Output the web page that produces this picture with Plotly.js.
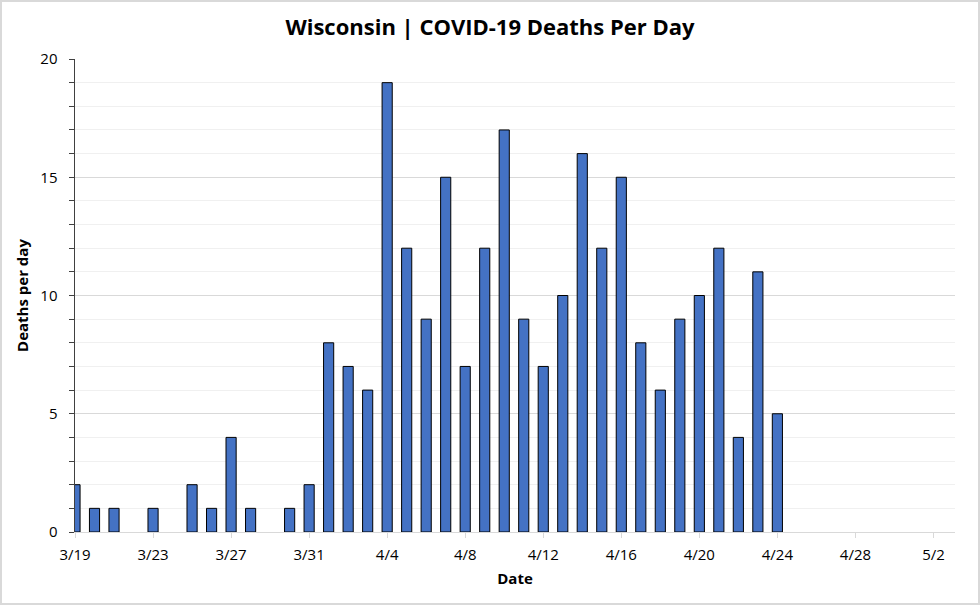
<!DOCTYPE html>
<html>
<head>
<meta charset="utf-8">
<script src="https://cdn.plot.ly/plotly-3.0.1.min.js"></script>
<style>
html,body{margin:0;padding:0;background:#fff;}
#wrap{position:relative;width:980px;height:605px;}
#chart{width:980px;height:605px;}
#frame{position:absolute;left:0;top:0;width:980px;height:605px;box-sizing:border-box;border:2px solid #d9d9d9;pointer-events:none;}
</style>
</head>
<body>
<div id="wrap"><div id="chart"></div><div id="frame"></div></div>
<script>
const dates = [
  "2020-03-19","2020-03-20","2020-03-21","2020-03-22","2020-03-23","2020-03-24","2020-03-25",
  "2020-03-26","2020-03-27","2020-03-28","2020-03-29","2020-03-30","2020-03-31","2020-04-01",
  "2020-04-02","2020-04-03","2020-04-04","2020-04-05","2020-04-06","2020-04-07","2020-04-08",
  "2020-04-09","2020-04-10","2020-04-11","2020-04-12","2020-04-13","2020-04-14","2020-04-15",
  "2020-04-16","2020-04-17","2020-04-18","2020-04-19","2020-04-20","2020-04-21","2020-04-22",
  "2020-04-23","2020-04-24"
];
const deaths = [
  2,1,1,0,1,0,2,
  1,4,1,0,1,2,8,
  7,6,19,12,9,15,7,
  12,17,9,7,10,16,12,
  15,8,6,9,10,12,4,
  11,5
];
const titleText = "Wisconsin | COVID-19 Deaths Per Day";
const xTitle = "Date";
const yTitle = "Deaths per day";

const trace = {
  type: "bar",
  x: dates,
  y: deaths,
  marker: {color: "#4472C4", line: {color: "#000000", width: deaths.map(v => v ? 1 : 0)}},
  hoverinfo: "x+y"
};

const layout = {
  width: 980, height: 605,
  margin: {l: 75, r: 25, t: 59, b: 73},
  paper_bgcolor: "#ffffff", plot_bgcolor: "#ffffff",
  bargap: 0.48,
  showlegend: false,
  font: {family: "Open Sans, Noto Sans, sans-serif", size: 15, color: "#000"},
  title: {
    text: "<b>" + titleText + "</b>",
    font: {family: "Open Sans, sans-serif", size: 22, color: "#000"},
    x: 0.5, xref: "container", xanchor: "center",
    y: 0.955, yref: "container", yanchor: "middle"
  },
  xaxis: {
    type: "date",
    range: ["2020-03-19 00:00", "2020-05-03 02:30"],
    tick0: "2020-03-19",
    dtick: 4 * 86400000,
    tickformat: "%-m/%-d",
    ticks: "outside", ticklen: 5, tickcolor: "#d9d9d9", tickwidth: 1,
    ticklabelstandoff: 4,
    showline: true, linecolor: "#d9d9d9", linewidth: 1,
    showgrid: false, zeroline: false,
    tickfont: {size: 15, color: "#000"},
    title: {text: "<b>" + xTitle + "</b>", font: {size: 15, color: "#000"}, standoff: 10}
  },
  yaxis: {
    range: [0, 20],
    dtick: 5,
    ticks: "outside", ticklen: 5, tickcolor: "#404040", tickwidth: 1,
    ticklabelstandoff: 8,
    showline: true, linecolor: "#404040", linewidth: 1.5,
    showgrid: true, gridcolor: "#d9d9d9", gridwidth: 1,
    zeroline: false,
    tickfont: {size: 15, color: "#000"},
    minor: {dtick: 1, ticks: "outside", ticklen: 5, tickcolor: "#404040", showgrid: true, gridcolor: "#f0f0f0", gridwidth: 1},
    title: {text: "<b>" + yTitle + "</b>", font: {size: 15, color: "#000"}, standoff: 8}
  }
};

Plotly.newPlot("chart", [trace], layout, {displayModeBar: false, staticPlot: true});
</script>
</body>
</html>
